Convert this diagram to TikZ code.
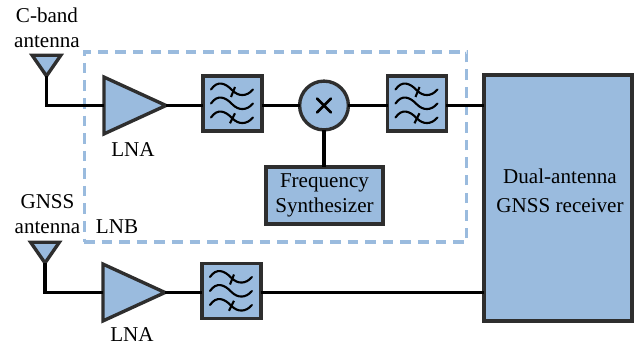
\documentclass[tikz,border=0pt]{standalone}
\usepackage{fontspec}
\setmainfont{Liberation Serif}
\usepackage{tikz}
\usetikzlibrary{shapes.geometric}
\definecolor{blockblue}{HTML}{9ABBDE}
\definecolor{blockedge}{HTML}{2E2E2E}
\tikzset{
  every node/.style={inner sep=0pt,outer sep=0pt,font=\fontsize{15}{17.8}\selectfont,align=center},
  block/.style={draw=blockedge,fill=blockblue,line width=2.4pt},
  filterbox/.style={block,rectangle,minimum width=1.47cm,minimum height=1.38cm},
  amp/.style={block,isosceles triangle,isosceles triangle stretches,minimum width=1.42cm,minimum height=1.55cm},
  antenna/.style={block,isosceles triangle,isosceles triangle stretches,shape border rotate=-90,minimum width=0.72cm,minimum height=0.52cm},
  wire/.style={black,line width=2.2pt},
  pics/waves/.style={code={
    \foreach \dy in {1.4,0,-1.4}
      \draw [black,line width=1.5pt,line cap=round] (-2.15,\dy) .. controls (-1.5,\dy+.95) and (-.7,\dy+.65) .. (0,\dy-.1) .. controls (.6,\dy-.7) and (1.4,\dy-.75) .. (2.05,\dy);
    \draw [black,line width=1.5pt] (.25,1.65) -- (-.15,.65);
    \draw [black,line width=1.5pt] (.25,-.98) -- (-.25,-1.98);
  }}
}
\begin{document}
\begin{tikzpicture}[scale=0.25]
\useasboundingbox (0,0) rectangle (64.1,-35);
\node [draw=blockblue,line width=2.2pt,dash pattern=on 7.5pt off 5pt,rectangle,minimum width=9.57cm,minimum height=4.75cm] (lnbbox) at (27.55,-14.7) {};
\node [antenna,anchor=apex] (anta) at (4.65,-7.6) {};
\node [amp,anchor=lower side] (lnaa) at (10.4,-10.55) {};
\node [filterbox] (filta) at (23.25,-10.35) {};
\pic [transform shape] at (23.25,-10.35) {waves};
\node [block,circle,minimum size=1.22cm] (mixer) at (32.4,-10.55) {};
\draw [black,line width=2pt,line cap=round] (31.7,-9.85) -- (33.1,-11.25) (33.1,-9.85) -- (31.7,-11.25);
\node [filterbox] (filtb) at (41.7,-10.35) {};
\pic [transform shape] at (41.7,-10.35) {waves};
\node [block,rectangle,minimum width=2.92cm,minimum height=1.42cm] (synth) at (32.45,-19.55) {Frequency\\Synthesizer};
\node [block,rectangle,minimum width=3.7cm,minimum height=6.15cm] (recv) at (55.8,-19.8) {};
\node at (56,-19.05) (recvtext) {Dual-antenna\\[3pt]GNSS receiver};
\node [antenna,anchor=apex] (antb) at (4.5,-26.3) {};
\node [amp,anchor=lower side] (lnab) at (10.3,-29.25) {};
\node [filterbox] (filtc) at (23.15,-29.1) {};
\pic [transform shape] at (23.15,-29.1) {waves};
\node (labela) at (4.7,-2.75) {C-band\\antenna};
\node (labelb) at (4.75,-21.45) {GNSS\\antenna};
\node (lnalabela) at (13.3,-15) {LNA};
\node (lnalabelb) at (13.2,-33.5) {LNA};
\node (lnblabel) at (11.7,-22.7) {LNB};
\draw [wire] (anta.apex) |- (lnaa.lower side);
\draw [wire] (lnaa.apex) -- (lnaa.apex -| filta.west);
\draw [wire] (filta.east |- mixer.west) -- (mixer.west);
\draw [wire] (mixer.east) -- (mixer.east -| filtb.west);
\draw [wire] (filtb.east |- mixer.east) -- (mixer.east -| recv.west);
\draw [wire] (mixer.south) -- (synth.north -| mixer.south);
\draw [wire] (antb.apex) |- (lnab.lower side);
\draw [wire] (lnab.apex) -- (lnab.apex -| filtc.west);
\draw [wire] (filtc.east |- lnab.apex) -- (lnab.apex -| recv.west);
\end{tikzpicture}
\end{document}
